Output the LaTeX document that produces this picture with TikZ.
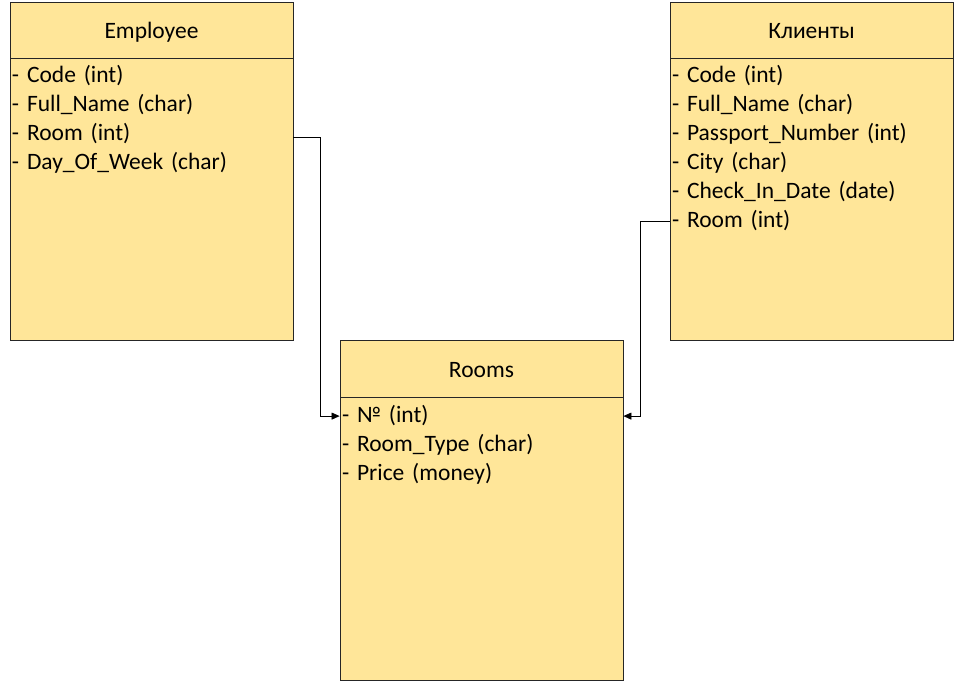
\documentclass[tikz,border=0pt]{standalone}
\usepackage{fontspec}
\setmainfont{Carlito}
\usetikzlibrary{arrows.meta,positioning}
\definecolor{tablefill}{HTML}{FFE699}
\definecolor{tableline}{HTML}{262626}

\tikzset{
    tablehead/.style={draw=tableline, fill=tablefill, line width=0.8pt,
        minimum width=283pt, minimum height=56pt, inner sep=0pt,
        text height=18pt, text depth=0pt,
        font=\fontsize{23.5}{27}\selectfont},
    tablebody/.style={draw=tableline, fill=tablefill, line width=0.8pt,
        minimum width=283pt, minimum height=282pt, inner sep=0pt},
    field/.style={text width=279pt, align=left, inner sep=0pt,
        text height=17pt, text depth=4pt, font=\fontsize{23.5}{27}\selectfont},
    link/.style={-{Triangle[length=8pt,width=7pt]}, line width=0.7pt}
}

\begin{document}
\begin{tikzpicture}[x=1pt,y=1pt]
    \useasboundingbox (0,0) rectangle (955,-682);

    % Employee
    \node[tablehead] (empHead) at (151.5,-30) {Employee};
    \node[tablebody, below=0pt of empHead] (empBody) {};
    \node[field, below=7.3pt of empHead] (empCode) {- Code (int)};
    \node[field, below=7.5pt of empCode] (empName) {- Full\_Name (char)};
    \node[field, below=7.5pt of empName] (empRoom) {- Room (int)};
    \node[field, below=7.5pt of empRoom] (empDay) {- Day\_Of\_Week (char)};

    % Клиенты
    \node[tablehead] (kliHead) at (811.5,-30) {Клиенты};
    \node[tablebody, below=0pt of kliHead] (kliBody) {};
    \node[field, below=7.3pt of kliHead] (kliCode) {- Code (int)};
    \node[field, below=7.5pt of kliCode] (kliName) {- Full\_Name (char)};
    \node[field, below=7.5pt of kliName] (kliPass) {- Passport\_Number (int)};
    \node[field, below=7.5pt of kliPass] (kliCity) {- City (char)};
    \node[field, below=7.5pt of kliCity] (kliDate) {- Check\_In\_Date (date)};
    \node[field, below=7.5pt of kliDate] (kliRoom) {- Room (int)};

    % Rooms
    \node[tablehead, minimum height=57pt] (roomHead) at (481.5,-368.5) {Rooms};
    \node[tablebody, minimum height=283pt, below=0pt of roomHead] (roomBody) {};
    \node[field, below=8pt of roomHead] (roomNo) {- № (int)};
    \node[field, below=7.5pt of roomNo] (roomType) {- Room\_Type (char)};
    \node[field, below=7.5pt of roomType] (roomPrice) {- Price (money)};

    % links
    \draw[link] ([yshift=-3pt]empBody.east |- empRoom) -- ++(27,0) |- (roomBody.west |- roomNo);
    \draw[link] (kliBody.west |- kliRoom) -- ++(-29,0) |- (roomBody.east |- roomNo);
\end{tikzpicture}
\end{document}
